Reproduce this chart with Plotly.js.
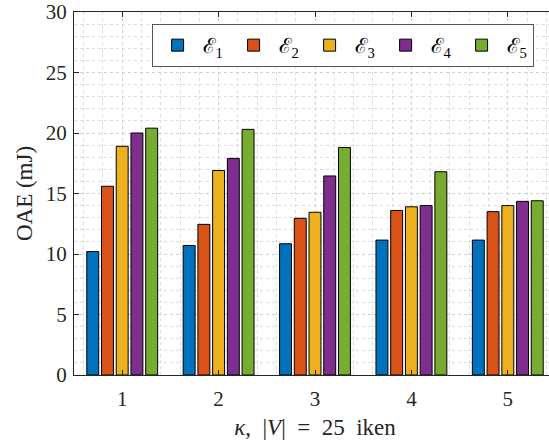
<!DOCTYPE html>
<html>
<head>
<meta charset="utf-8">
<script src="https://cdn.plot.ly/plotly-3.0.1.min.js"></script>
<style>
html,body{margin:0;padding:0;overflow:hidden;background:#fff;}
#chart{width:560px;height:447px;}
</style>
</head>
<body>
<div id="chart"></div>
<script>
const kappa = [1, 2, 3, 4, 5];
const seriesNames = ['ℰ<sub>1</sub>', 'ℰ<sub>2</sub>', 'ℰ<sub>3</sub>', 'ℰ<sub>4</sub>', 'ℰ<sub>5</sub>'];
const e1 = [10.2, 10.7, 10.85, 11.15, 11.15];
const e2 = [15.6, 12.45, 12.95, 13.6, 13.5];
const e3 = [18.9, 16.9, 13.45, 13.9, 14.0];
const e4 = [20.0, 17.9, 16.45, 14.0, 14.35];
const e5 = [20.4, 20.3, 18.8, 16.8, 14.4];
const colors = ['#0072BD', '#D95319', '#EDB120', '#7E2F8E', '#77AC30'];
const yTicks = [0, 5, 10, 15, 20, 25, 30];

const allSeries = [e1, e2, e3, e4, e5];
const font = 'Liberation Serif';
const sp = '\u00A0';

const traces = allSeries.map((vals, i) => ({
  type: 'bar',
  x: kappa,
  y: vals,
  name: seriesNames[i],
  marker: {color: colors[i], line: {color: '#000', width: 1}}
}));

const layout = {
  width: 560,
  height: 447,
  margin: {l: 74, r: 3.5, t: 12, b: 72},
  paper_bgcolor: '#fff',
  plot_bgcolor: '#fff',
  barmode: 'group',
  bargap: 0.236,
  bargroupgap: 0.19,
  font: {family: font, size: 20, color: '#262626'},
  xaxis: {
    range: [0.5, 5.5],
    tickvals: kappa,
    ticktext: kappa.map(String),
    tickfont: {family: font, size: 21},
    ticklabelstandoff: 5,
    ticks: 'inside',
    ticklen: 5,
    tickcolor: '#262626',
    showline: true,
    linecolor: '#262626',
    linewidth: 1,
    mirror: 'ticks',
    showgrid: true,
    gridcolor: '#d0d0d0',
    griddash: 'dot',
    minor: {dtick: 0.2, showgrid: true, gridcolor: '#dcdcdc', griddash: 'dot'},
    zeroline: false,
    title: {
      text: '<i>κ</i>,' + sp + sp + '|<i>V</i>|' + sp + sp + '=' + sp + sp + '25' + sp + sp + 'iken',
      font: {family: font, size: 23},
      standoff: 8
    }
  },
  yaxis: {
    range: [0, 30],
    tickvals: yTicks,
    ticktext: yTicks.map(String),
    tickfont: {family: font, size: 21},
    ticklabelstandoff: 2,
    ticks: 'inside',
    ticklen: 5,
    tickcolor: '#262626',
    showline: true,
    linecolor: '#262626',
    linewidth: 1,
    mirror: 'ticks',
    showgrid: true,
    gridcolor: '#d0d0d0',
    griddash: 'dot',
    minor: {dtick: 1, showgrid: true, gridcolor: '#dcdcdc', griddash: 'dot'},
    zeroline: false,
    title: {text: 'OAE (mJ)', font: {family: font, size: 23}, standoff: 6}
  },
  showlegend: true,
  legend: {
    orientation: 'h',
    x: 0.161,
    y: 0.967,
    xanchor: 'left',
    yanchor: 'top',
    bgcolor: '#fff',
    bordercolor: '#555',
    borderwidth: 1,
    itemwidth: 40,
    entrywidth: 21,
    entrywidthmode: 'pixels',
    font: {family: font, size: 21, color: '#000'}
  }
};

Plotly.newPlot('chart', traces, layout, {displayModeBar: false, staticPlot: true});
</script>
</body>
</html>
